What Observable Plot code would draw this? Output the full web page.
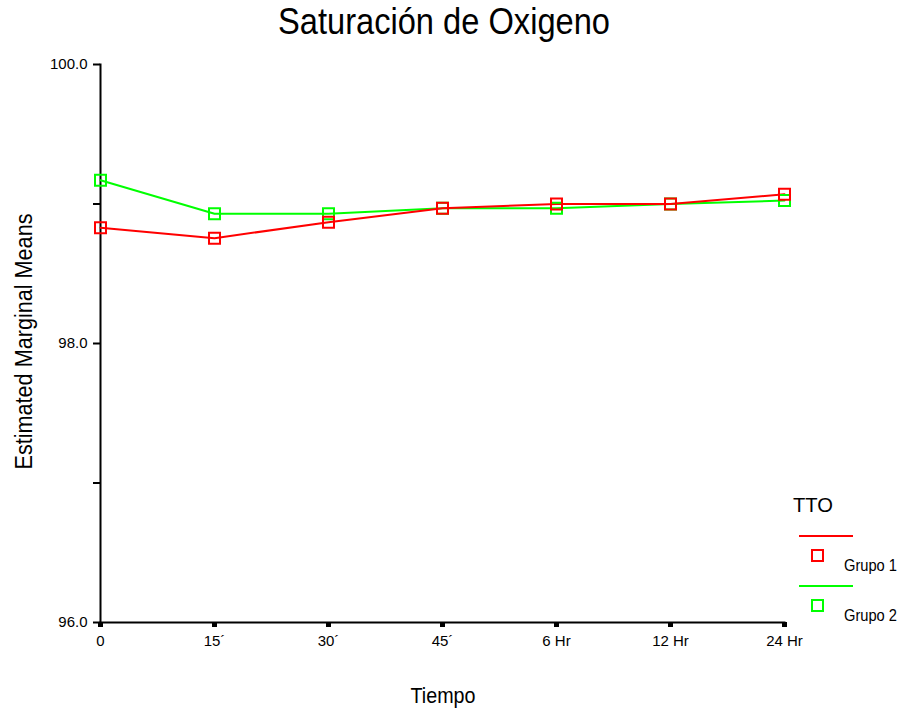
<!DOCTYPE html>
<html><head><meta charset="utf-8">
<script src="https://cdn.jsdelivr.net/npm/d3@7"></script>
<script src="https://cdn.jsdelivr.net/npm/@observablehq/plot@0.6"></script>
<style>
body{margin:0;background:#fff;font-family:"Liberation Sans",Arial,sans-serif;}
#wrap{position:relative;width:903px;height:713px;overflow:hidden;}
#wrap > svg{position:absolute;left:0;top:0;}
#overlay{pointer-events:none;}
#wrap g[aria-label="x-axis tick label"], #wrap g[aria-label="y-axis tick label"],
#wrap g[aria-label="x-axis tick label"] text, #wrap g[aria-label="y-axis tick label"] text{font-size:15px !important;}
</style></head><body><div id="wrap"></div>
<script>
const tiempo = ["0","15´","30´","45´","6 Hr","12 Hr","24 Hr"];
const grupo1 = [98.83, 98.755, 98.87, 98.97, 99.00, 99.00, 99.07];
const grupo2 = [99.17, 98.93, 98.93, 98.97, 98.97, 99.00, 99.025];
const grupos = ["Grupo 1", "Grupo 2"];
const colores = ["#ff0000", "#00ff00"];
const yTicks = [96, 97, 98, 99, 100];
const yLabeled = [96, 98, 100];

// draw Grupo 2 first so Grupo 1 sits on top, as in the reference
const data = [
  ...tiempo.map((t, i) => ({tiempo: t, valor: grupo2[i], grupo: "Grupo 2"})),
  ...tiempo.map((t, i) => ({tiempo: t, valor: grupo1[i], grupo: "Grupo 1"}))
];

const chart = Plot.plot({
  width: 903, height: 713,
  marginLeft: 100, marginRight: 119, marginTop: 64, marginBottom: 91,
  style: {fontFamily: "'Liberation Sans', Arial, sans-serif", fontSize: "15px", background: "white", color: "black"},
  x: {type: "point", domain: tiempo, padding: 0},
  y: {domain: [96, 100]},
  color: {domain: grupos, range: colores},
  marks: [
    Plot.axisY({ticks: yTicks, tickFormat: d => yLabeled.includes(d) ? d.toFixed(1) : "", tickSize: 7, tickPadding: 6, strokeWidth: 2, label: null, fontSize: 15}),
    Plot.axisX({tickSize: 5, tickPadding: 8, strokeWidth: 5, label: null, fontSize: 15}),
    Plot.frame({anchor: "left", strokeWidth: 2}),
    Plot.frame({anchor: "bottom", strokeWidth: 2}),
    Plot.line(data, {x: "tiempo", y: "valor", z: "grupo", stroke: "grupo", strokeWidth: 2}),
    Plot.dot(data, {x: "tiempo", y: "valor", stroke: "grupo", symbol: "square", r: 6.2, strokeWidth: 2, fill: "none"})
  ]
});
document.getElementById("wrap").appendChild(chart);

// overlay: title, axis titles and legend
const ov = d3.select("#wrap").append("svg").attr("id", "overlay")
  .attr("width", 903).attr("height", 713)
  .style("font-family", "'Liberation Sans', Arial, sans-serif");

ov.append("text").attr("x", 444).attr("y", 34).attr("text-anchor", "middle")
  .attr("font-size", 36).attr("textLength", 332).attr("lengthAdjust", "spacingAndGlyphs")
  .text("Saturación de Oxigeno");

ov.append("text").attr("transform", "translate(32,341.5) rotate(-90)").attr("text-anchor", "middle")
  .attr("font-size", 23).attr("textLength", 256).attr("lengthAdjust", "spacingAndGlyphs")
  .text("Estimated Marginal Means");

ov.append("text").attr("x", 443).attr("y", 703).attr("text-anchor", "middle")
  .attr("font-size", 22).attr("textLength", 65).attr("lengthAdjust", "spacingAndGlyphs")
  .text("Tiempo");

ov.append("text").attr("x", 793).attr("y", 512)
  .attr("font-size", 21).attr("textLength", 40).attr("lengthAdjust", "spacingAndGlyphs")
  .text("TTO");

grupos.forEach((g, i) => {
  const off = i * 50;
  ov.append("line").attr("x1", 799).attr("x2", 853).attr("y1", 536 + off).attr("y2", 536 + off)
    .attr("stroke", colores[i]).attr("stroke-width", 2);
  ov.append("rect").attr("x", 812).attr("y", 550 + off).attr("width", 11).attr("height", 11)
    .attr("fill", "none").attr("stroke", colores[i]).attr("stroke-width", 2);
  ov.append("text").attr("x", 844).attr("y", 571 + off)
    .attr("font-size", 16).attr("textLength", 53).attr("lengthAdjust", "spacingAndGlyphs")
    .text(g);
});
</script>
</body></html>
